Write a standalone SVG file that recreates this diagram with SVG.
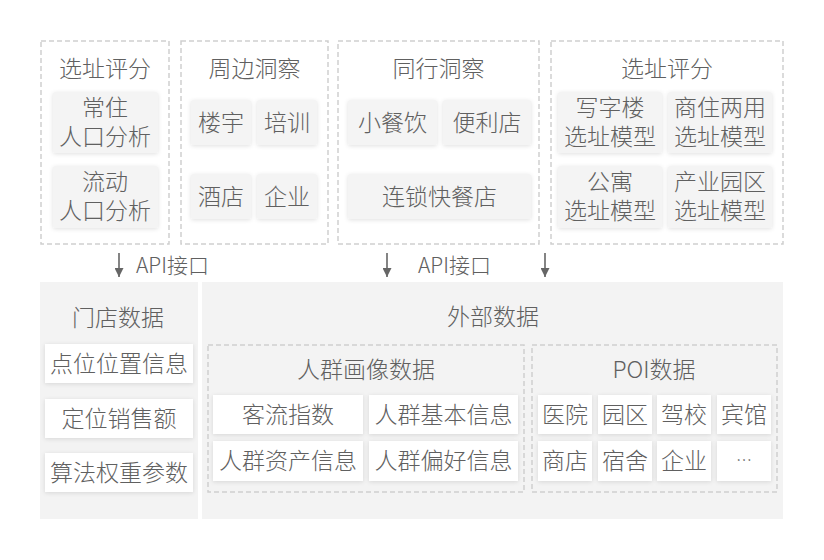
<svg xmlns="http://www.w3.org/2000/svg" width="824" height="560" viewBox="0 0 824 560">
<style>
text{font-family:"Noto Sans CJK SC","Noto Sans",sans-serif;font-weight:300;fill:#606060;text-anchor:middle;font-size:23px}
.dash{fill:none;stroke:#cfcfcf;stroke-width:1.5;stroke-dasharray:5 3}
.gbox{fill:#f4f4f4;filter:url(#sh)}
.wbox{fill:#ffffff;filter:url(#sh)}
.panel{fill:#f3f3f3}
.api{font-size:21px;text-anchor:start}
.conn line{stroke:#666;stroke-width:1.6}
</style>
<defs>
<filter id="sh" x="-20%" y="-20%" width="140%" height="140%">
<feDropShadow dx="0" dy="1" stdDeviation="2" flood-color="#000" flood-opacity="0.12"/>
</filter>
<marker id="ah" viewBox="0 0 10 10" refX="10" refY="5" markerWidth="9" markerHeight="9" markerUnits="userSpaceOnUse" orient="auto">
<path d="M0,0 L10,5 L0,10 Z" fill="#666"/>
</marker>
</defs>
<rect width="824" height="560" fill="#ffffff"/>

<g id="box-xuanzhi1">
<rect class="dash" x="41" y="41" width="128" height="203"/>
<text x="105" y="77">选址评分</text>
<rect class="gbox" x="53" y="92" width="105" height="61" rx="2"/>
<text x="105" y="116">常住</text>
<text x="105" y="145">人口分析</text>
<rect class="gbox" x="53" y="166" width="105" height="62" rx="2"/>
<text x="105" y="190">流动</text>
<text x="105" y="219">人口分析</text>
</g>

<g id="box-zhoubian">
<rect class="dash" x="181" y="41" width="147" height="203"/>
<text x="254.5" y="77">周边洞察</text>
<rect class="gbox" x="191" y="100" width="60" height="45" rx="2"/>
<text x="221" y="131">楼宇</text>
<rect class="gbox" x="257" y="100" width="60" height="45" rx="2"/>
<text x="287" y="131">培训</text>
<rect class="gbox" x="191" y="174" width="60" height="45" rx="2"/>
<text x="221" y="205">酒店</text>
<rect class="gbox" x="257" y="174" width="60" height="45" rx="2"/>
<text x="287" y="205">企业</text>
</g>

<g id="box-tonghang">
<rect class="dash" x="338" y="41" width="201" height="203"/>
<text x="438.5" y="77">同行洞察</text>
<rect class="gbox" x="348" y="100" width="89" height="45" rx="2"/>
<text x="392.5" y="131">小餐饮</text>
<rect class="gbox" x="443" y="100" width="88" height="45" rx="2"/>
<text x="487" y="131">便利店</text>
<rect class="gbox" x="348" y="174" width="183" height="45" rx="2"/>
<text x="439.5" y="205">连锁快餐店</text>
</g>

<g id="box-xuanzhi2">
<rect class="dash" x="551" y="41" width="232" height="203"/>
<text x="667" y="77">选址评分</text>
<rect class="gbox" x="558" y="92" width="104" height="61" rx="2"/>
<text x="610" y="116">写字楼</text>
<text x="610" y="145">选址模型</text>
<rect class="gbox" x="668" y="92" width="104" height="61" rx="2"/>
<text x="720" y="116">商住两用</text>
<text x="720" y="145">选址模型</text>
<rect class="gbox" x="558" y="166" width="104" height="62" rx="2"/>
<text x="610" y="190">公寓</text>
<text x="610" y="219">选址模型</text>
<rect class="gbox" x="668" y="166" width="104" height="62" rx="2"/>
<text x="720" y="190">产业园区</text>
<text x="720" y="219">选址模型</text>
</g>

<g id="connectors" class="conn">
<line x1="119" y1="253" x2="119" y2="277" marker-end="url(#ah)"/>
<line x1="387" y1="253" x2="387" y2="277" marker-end="url(#ah)"/>
<line x1="545" y1="253" x2="545" y2="277" marker-end="url(#ah)"/>
</g>
<g id="api-labels">
<text class="api" x="136" y="273">API接口</text>
<text class="api" x="418" y="273">API接口</text>
</g>

<g id="store-data">
<rect class="panel" x="40" y="282" width="158" height="237"/>
<text x="118" y="326">门店数据</text>
<rect class="wbox" x="45" y="344" width="148" height="39"/>
<text x="119" y="372">点位位置信息</text>
<rect class="wbox" x="45" y="399" width="148" height="39"/>
<text x="119" y="427">定位销售额</text>
<rect class="wbox" x="45" y="453" width="148" height="39"/>
<text x="119" y="481">算法权重参数</text>
</g>

<g id="external-data">
<rect class="panel" x="202" y="282" width="581" height="237"/>
<text x="493" y="325">外部数据</text>
</g>

<g id="crowd-data">
<rect class="dash" x="208" y="345" width="316" height="147"/>
<text x="366" y="378">人群画像数据</text>
<rect class="wbox" x="213" y="395" width="150" height="39"/>
<text x="288" y="423">客流指数</text>
<rect class="wbox" x="369" y="395" width="149" height="39"/>
<text x="443.5" y="423">人群基本信息</text>
<rect class="wbox" x="213" y="441" width="150" height="40"/>
<text x="288" y="469">人群资产信息</text>
<rect class="wbox" x="369" y="441" width="149" height="40"/>
<text x="443.5" y="469">人群偏好信息</text>
</g>

<g id="poi-data">
<rect class="dash" x="532" y="345" width="245" height="147"/>
<text x="654" y="378">POI数据</text>
<rect class="wbox" x="538" y="395" width="54" height="39"/>
<text x="565" y="423">医院</text>
<rect class="wbox" x="598" y="395" width="54" height="39"/>
<text x="625" y="423">园区</text>
<rect class="wbox" x="657" y="395" width="54" height="39"/>
<text x="684" y="423">驾校</text>
<rect class="wbox" x="717" y="395" width="54" height="39"/>
<text x="744" y="423">宾馆</text>
<rect class="wbox" x="538" y="441" width="54" height="40"/>
<text x="565" y="469">商店</text>
<rect class="wbox" x="598" y="441" width="54" height="40"/>
<text x="625" y="469">宿舍</text>
<rect class="wbox" x="657" y="441" width="54" height="40"/>
<text x="684" y="469">企业</text>
<rect class="wbox" x="717" y="441" width="54" height="40"/>
<text x="744" y="466" style="font-size:16px">…</text>
</g>
</svg>
